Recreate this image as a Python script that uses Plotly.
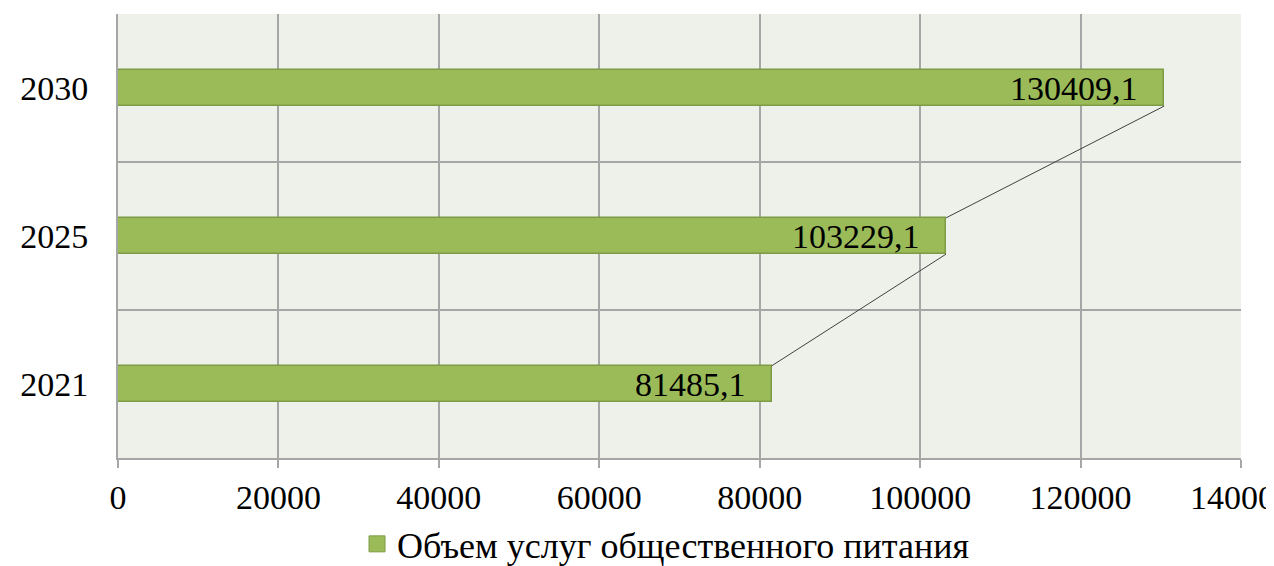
import plotly.graph_objects as go

years = ["2021", "2025", "2030"]
values = [81485.1, 103229.1, 130409.1]
labels = ["81485,1", "103229,1", "130409,1"]
series_name = "Объем услуг общественного питания"
x_ticks = [0, 20000, 40000, 60000, 80000, 100000, 120000, 140000]

FONT = "Liberation Serif, Times New Roman, serif"
FS = 34
BAR_W = 0.245
pos = list(range(len(years)))

fig = go.Figure()
fig.add_trace(go.Bar(
    y=pos, x=values, orientation="h", width=BAR_W, name=series_name,
    marker=dict(color="#9BBB59", line=dict(color="#7E9C46", width=1.5)),
    showlegend=False, hoverinfo="skip",
))

# series lines (Excel style): top-right of lower bar to bottom-right of next bar
for i in range(len(values) - 1):
    fig.add_trace(go.Scatter(
        x=[values[i], values[i + 1]],
        y=[pos[i] + BAR_W / 2, pos[i + 1] - BAR_W / 2],
        mode="lines", line=dict(color="#404040", width=1),
        showlegend=False, hoverinfo="skip",
    ))

# legend entry
fig.add_trace(go.Scatter(
    x=[None], y=[None], mode="markers", name=series_name,
    marker=dict(symbol="square", size=18, color="#9BBB59",
                line=dict(color="#7E9C46", width=1)),
    showlegend=True, hoverinfo="skip",
))

for p, v, t in zip(pos, values, labels):
    fig.add_annotation(x=v, y=p, text=t, xanchor="right", yanchor="middle",
                       xshift=-24, showarrow=False,
                       font=dict(family=FONT, size=FS, color="black"))

fig.update_layout(
    width=1274, height=566,
    margin=dict(l=110, r=41, t=6, b=116, autoexpand=False),
    paper_bgcolor="white", plot_bgcolor="#EEF1E9",
    font=dict(family=FONT, size=FS, color="black"),
    bargap=0,
    legend=dict(orientation="h", x=0.488, xanchor="center", y=-0.126, yanchor="top",
                font=dict(family=FONT, size=36, color="black"),
                itemwidth=30, tracegroupgap=0),
    xaxis=dict(range=[0, 140000], tickvals=x_ticks, ticktext=[str(v) for v in x_ticks],
               showgrid=True, gridcolor="#A6A6A6", gridwidth=1.5,
               showline=True, linecolor="#A6A6A6", linewidth=1.5,
               ticks="outside", ticklen=8, tickcolor="#A6A6A6", tickwidth=1.5,
               zeroline=False, automargin=False, ticklabeloverflow="allow",
               tickfont=dict(family=FONT, size=FS)),
    yaxis=dict(range=[-0.5, 2.5], tickvals=[-0.5, 0.5, 1.5, 2.5],
               ticktext=["", "", "", ""], showgrid=True, gridcolor="#A6A6A6", gridwidth=1.5,
               showline=True, linecolor="#A6A6A6", linewidth=1.5, zeroline=False,
               automargin=False),
    yaxis2=dict(range=[-0.5, 2.5], overlaying="y", side="left", tickvals=pos,
                ticktext=years, showgrid=False, zeroline=False, showline=False,
                ticks="outside", ticklen=22, tickcolor="rgba(0,0,0,0)",
                automargin=False, tickfont=dict(family=FONT, size=FS)),
)
fig.add_trace(go.Scatter(x=[None], y=[None], yaxis="y2", showlegend=False, hoverinfo="skip"))

fig.write_html("out.html")
